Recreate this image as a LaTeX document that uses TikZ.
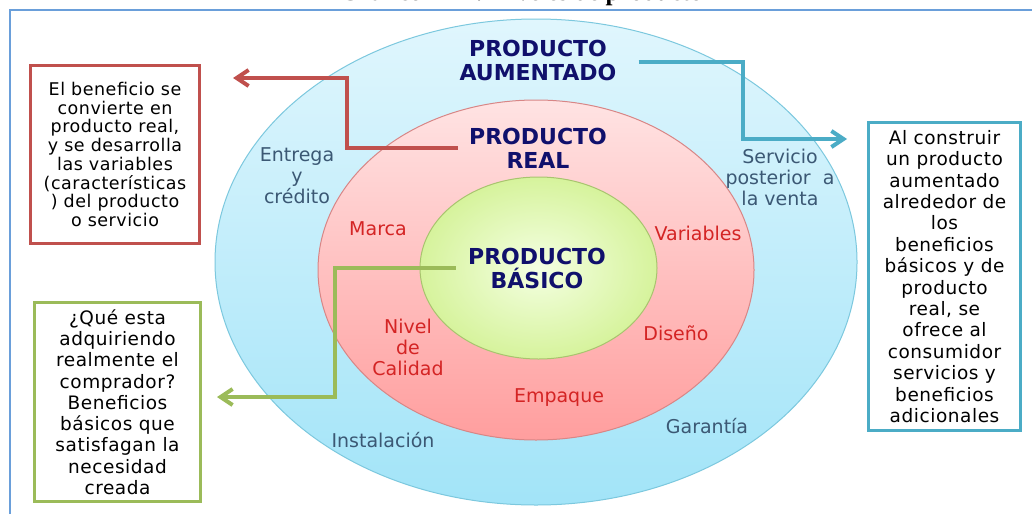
\documentclass[tikz,border=0pt]{standalone}
\usepackage{fontspec}
\setmainfont{DejaVu Sans}
\newfontfamily\boxfont[LetterSpace=3]{DejaVu Sans}
\newfontfamily\titlefont{Liberation Serif}
\usetikzlibrary{arrows.meta}

\definecolor{frameblue}{HTML}{6A9FDA}
\definecolor{navy}{HTML}{10106C}
\definecolor{slate}{HTML}{3B5874}
\definecolor{labelred}{HTML}{D42424}
\definecolor{linkred}{HTML}{C0504D}
\definecolor{linkblue}{HTML}{4BACC6}
\definecolor{linkgreen}{HTML}{9BBB59}
\definecolor{outertop}{HTML}{E0F6FD}
\definecolor{outerbot}{HTML}{A2E4F8}
\definecolor{outeredge}{HTML}{7CC8DE}
\definecolor{midtop}{HTML}{FFE3E3}
\definecolor{midbot}{HTML}{FF9E9E}
\definecolor{midedge}{HTML}{D88686}
\definecolor{innerin}{HTML}{F4FFE2}
\definecolor{innerout}{HTML}{D6F39C}
\definecolor{inneredge}{HTML}{A8C46E}

\begin{document}
\begin{tikzpicture}[x=1pt, y=-1pt,
    heading/.style={font=\fontsize{22}{24}\selectfont\bfseries, text=navy, align=center, inner sep=0pt},
    ringlbl/.style={font=\fontsize{19}{21}\selectfont, text=slate, align=center, inner sep=0pt},
    reallbl/.style={font=\fontsize{19}{21}\selectfont, text=labelred, align=center, inner sep=0pt},
    infobox/.style={draw=#1, line width=3pt, fill=white, align=center, inner sep=0pt},
    link/.style={draw=#1, line width=4pt, -{Straight Barb[length=12pt,width=16pt]}}
]

        % Page and frame
        \fill[white] (0,0) rectangle (1032,514);
        \useasboundingbox (0,0) rectangle (1032,514);
        \node[anchor=base west, inner sep=0pt, font=\titlefont\bfseries\fontsize{25}{28}\selectfont] (title) at (340,0.5) {Gráfico N° 1: Niveles de producto};
        \draw[frameblue, line width=2.5pt] (10,514) -- (10,10) -- (1032,10);

        % Outer ring
        \draw[outeredge, line width=1pt, top color=outertop, bottom color=outerbot] (536,262) ellipse [x radius=321pt, y radius=243pt];

        % Middle ring
        \draw[midedge, line width=1pt, top color=midtop, bottom color=midbot] (536,270) ellipse [x radius=218pt, y radius=170pt];

        % Core
        \draw[inneredge, line width=1pt, inner color=innerin, outer color=innerout] (538.5,268) ellipse [x radius=118.5pt, y radius=91pt];

        % Level titles
        \node[heading] (aument) at (538,60) {PRODUCTO\\AUMENTADO};
        \node[heading] (real) at (538,148) {PRODUCTO\\REAL};
        \node[heading] (basico) at (537,268) {PRODUCTO\\BÁSICO};

        % Outer ring labels
        \node[ringlbl] (entrega) at (297,176) {Entrega\\y\\crédito};
        \node[ringlbl] (servicio) at (780,177) {Servicio\\posterior\ \ a\\la venta};
        \node[ringlbl] (instal) at (383,440) {Instalación};
        \node[ringlbl] (garantia) at (707,426) {Garantía};

        % Middle ring labels
        \node[reallbl] (marca) at (378,229) {Marca};
        \node[reallbl] (variables) at (698,233) {Variables};
        \node[reallbl] (calidad) at (408,347) {Nivel\\de\\Calidad};
        \node[reallbl] (diseno) at (676,333) {Diseño};
        \node[reallbl] (empaque) at (559,398) {Empaque};

        % Side boxes
        \node[infobox=linkred, minimum width=169pt, minimum height=178pt, font=\boxfont\fontsize{17.5}{18.7}\selectfont] (benef) at (115,154.5) {
            El beneficio se\\convierte en\\producto real,\\y se desarrolla\\las variables\\(características\\) del producto\\o servicio
        };
        \node[infobox=linkgreen, minimum width=166pt, minimum height=199pt, font=\boxfont\fontsize{18.5}{21.25}\selectfont] (compra) at (117.5,402) {
            ¿Qué esta\\adquiriendo\\realmente el\\comprador?\\Beneficios\\básicos que\\satisfagan la\\necesidad\\creada
        };
        \node[infobox=linkblue, minimum width=152pt, minimum height=308pt, font=\boxfont\fontsize{18.5}{21.4}\selectfont] (extra) at (944.5,276.5) {
            Al construir\\un producto\\aumentado\\alrededor de\\los\\beneficios\\básicos y de\\producto\\real, se\\ofrece al\\consumidor\\servicios y\\beneficios\\adicionales
        };

        % Connectors
        \coordinate (redbend) at (347,78);
        \coordinate (redtip) at (233,78);
        \coordinate (bluebend) at (743,139);
        \coordinate (bluetip) at (847,139);
        \coordinate (greenbend) at (335,397);
        \coordinate (greentip) at (217,397);
        \draw[link=linkred] ([xshift=-11pt]real.west) -| (redbend) -- (redtip);
        \draw[link=linkblue] ([xshift=22pt,yshift=-2pt]aument.east) -| (bluebend) -- (bluetip);
        \draw[link=linkgreen] ([xshift=-12pt]basico.west) -| (greenbend) -- (greentip);

\end{tikzpicture}
\end{document}
